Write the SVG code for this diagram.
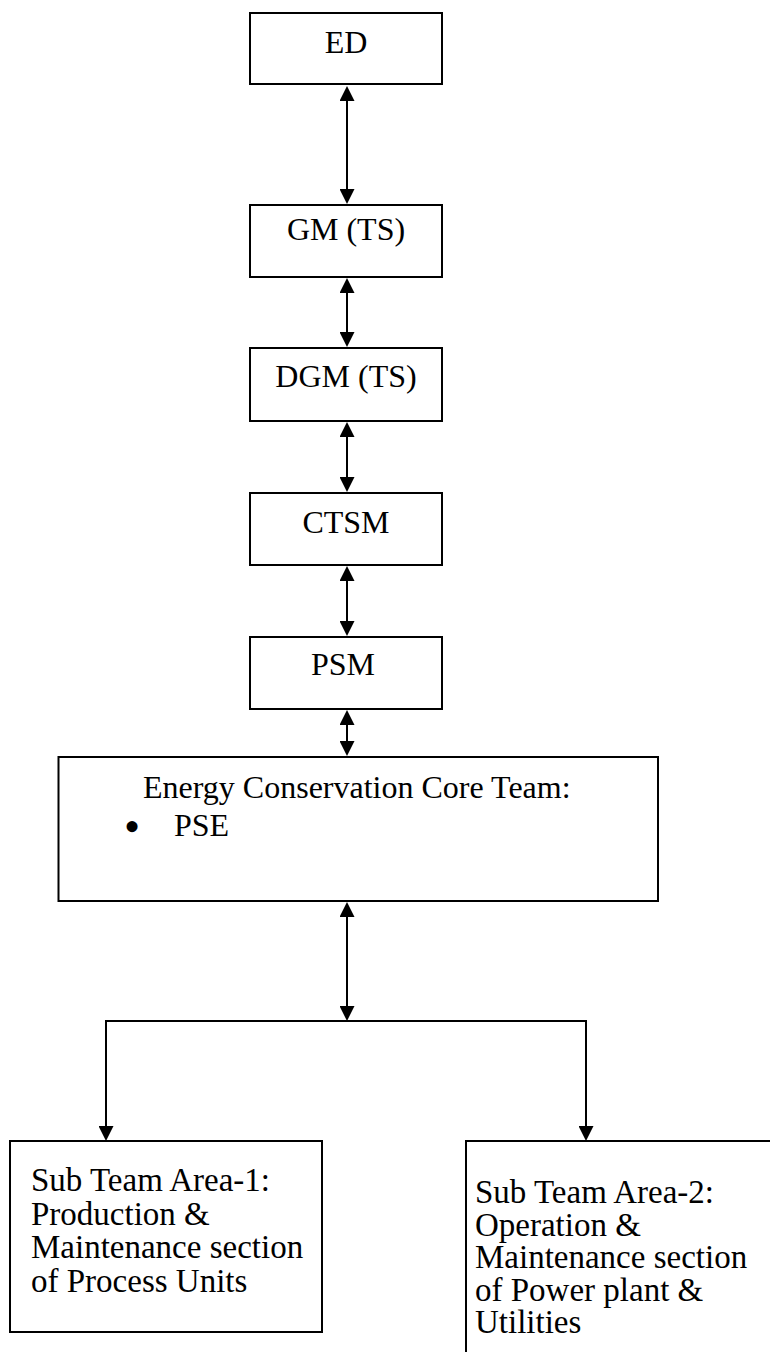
<svg xmlns="http://www.w3.org/2000/svg" width="770" height="1352" viewBox="0 0 770 1352">
<style>
.box{fill:#fff;stroke:#000;stroke-width:2}
.t{font-family:"Liberation Serif","Times New Roman",serif;font-size:32px;fill:#000}
.s{font-size:33px}
.c{text-anchor:middle}
.ln{fill:none;stroke:#000;stroke-width:2}
</style>
<defs>
<marker id="ah" viewBox="0 0 15 15" refX="12" refY="7.5" markerWidth="15" markerHeight="15" markerUnits="userSpaceOnUse" orient="auto-start-reverse">
<path d="M0,0 L15,7.5 L0,15 z" fill="#000"/>
</marker>
</defs>
<rect width="770" height="1352" fill="#fff"/>
<g id="connectors">
<line class="ln" x1="347" y1="89" x2="347" y2="201" marker-start="url(#ah)" marker-end="url(#ah)"/>
<line class="ln" x1="347" y1="281" x2="347" y2="344" marker-start="url(#ah)" marker-end="url(#ah)"/>
<line class="ln" x1="347" y1="425" x2="347" y2="489" marker-start="url(#ah)" marker-end="url(#ah)"/>
<line class="ln" x1="347" y1="569" x2="347" y2="633" marker-start="url(#ah)" marker-end="url(#ah)"/>
<line class="ln" x1="347" y1="713" x2="347" y2="753" marker-start="url(#ah)" marker-end="url(#ah)"/>
<line class="ln" x1="347" y1="905" x2="347" y2="1018" marker-start="url(#ah)" marker-end="url(#ah)"/>
<polyline class="ln" points="106,1138 106,1021 586,1021 586,1138"/>
<line class="ln" x1="106" y1="1100" x2="106" y2="1138" marker-end="url(#ah)"/>
<line class="ln" x1="586" y1="1100" x2="586" y2="1138" marker-end="url(#ah)"/>
</g>
<g id="ed">
<rect class="box" x="250" y="13" width="192" height="71"/>
<text class="t c" x="346" y="53">ED</text>
</g>
<g id="gm">
<rect class="box" x="250" y="205" width="192" height="72"/>
<text class="t c" x="346" y="240">GM (TS)</text>
</g>
<g id="dgm">
<rect class="box" x="250" y="348" width="192" height="73"/>
<text class="t c" x="346" y="387">DGM (TS)</text>
</g>
<g id="ctsm">
<rect class="box" x="250" y="493" width="192" height="72"/>
<text class="t c" x="346" y="533">CTSM</text>
</g>
<g id="psm">
<rect class="box" x="250" y="637" width="192" height="72"/>
<text class="t c" x="343" y="675">PSM</text>
</g>
<g id="core">
<rect class="box" x="58.5" y="757" width="599.5" height="144"/>
<text class="t" x="143" y="798">Energy Conservation Core Team:</text>
<text class="t" x="124" y="842" style="font-size:46px">•</text>
<text class="t" x="174" y="836">PSE</text>
</g>
<g id="sub1">
<rect class="box" x="10" y="1141" width="312" height="191"/>
<text class="t s" x="31" y="1191">Sub Team Area-1:</text>
<text class="t s" x="31" y="1224.5">Production &amp;</text>
<text class="t s" x="31" y="1258">Maintenance section</text>
<text class="t s" x="31" y="1291.5">of Process Units</text>
</g>
<g id="sub2">
<rect class="box" x="466" y="1141" width="400" height="300"/>
<text class="t s" x="475" y="1203">Sub Team Area-2:</text>
<text class="t s" x="475" y="1235.5">Operation &amp;</text>
<text class="t s" x="475" y="1268">Maintenance section</text>
<text class="t s" x="475" y="1300.5">of Power plant &amp;</text>
<text class="t s" x="475" y="1333">Utilities</text>
</g>
</svg>
